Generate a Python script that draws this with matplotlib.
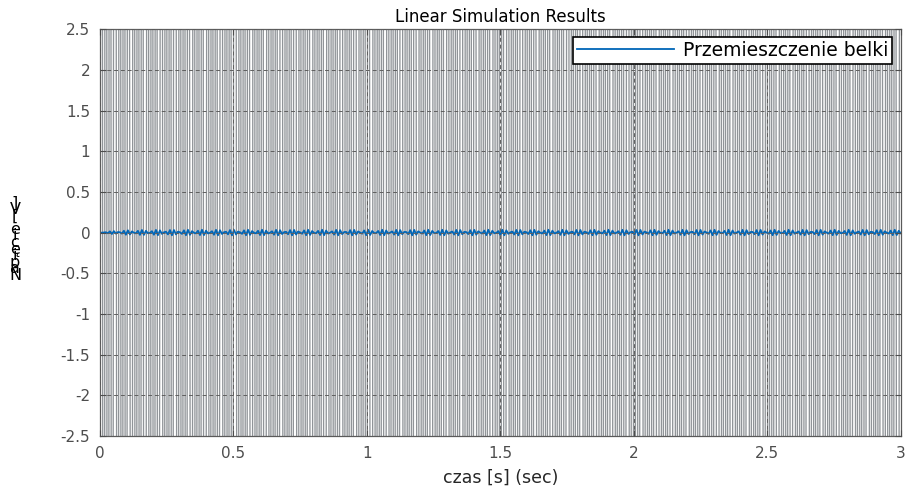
import numpy as np
import matplotlib
matplotlib.use("Agg")
import matplotlib.pyplot as plt

# simulation settings (lsim of a beam, sine input)
T_END = 3.0
N_SAMPLES = 401
INPUT_AMP = 40.0
INPUT_FREQ = 57.8          # Hz, aliased against the 0.0075 s step
RESP_AMP = 0.034
RESP_TAU = 0.06
RESP_PHASE = 0.9

X_TICKS = [0, 0.5, 1, 1.5, 2, 2.5, 3]
Y_TICKS = [-2.5, -2, -1.5, -1, -0.5, 0, 0.5, 1, 1.5, 2, 2.5]
TITLE = "Linear Simulation Results"
XLABEL = "czas [s] (sec)"
YLABEL = "Napięcie [V]"
LEGEND = "Przemieszczenie belki"

t = np.linspace(0, T_END, N_SAMPLES)
u = INPUT_AMP * np.sin(2 * np.pi * INPUT_FREQ * t)
y = RESP_AMP * (1 - np.exp(-t / RESP_TAU)) * np.sin(2 * np.pi * INPUT_FREQ * t + RESP_PHASE)

plt.rcParams["font.family"] = ["DejaVu Sans"]

fig = plt.figure(figsize=(9.08, 4.86), dpi=100)
ax = fig.add_axes([0.110, 0.103, 0.882, 0.837])

ax.plot(t, u, color="#909498", lw=0.95)
ax.plot(t, y, color="#0066b8", lw=1.3, label=LEGEND)

ax.set_xlim(0, T_END)
ax.set_ylim(-2.5, 2.5)
ax.set_xticks(X_TICKS)
ax.set_xticklabels([f"{v:g}" for v in X_TICKS])
ax.set_yticks(Y_TICKS)
ax.set_yticklabels([f"{v:g}" for v in Y_TICKS])
ax.tick_params(direction="in", length=4, labelsize=11, colors="#4d4d4d",
               top=True, right=True, pad=7)
for s in ax.spines.values():
    s.set_color("#5a5a5a")
    s.set_linewidth(0.9)
ax.grid(True, ls=(0, (4, 3)), color="#5f5f5f", lw=0.7)
ax.set_axisbelow(False)

ax.set_title(TITLE, fontsize=12, color="black", pad=5)
ax.set_xlabel(XLABEL, fontsize=12.5, color="#262626", labelpad=6)

# y label drawn as stacked characters, bottom to top
fig.text(0.0165, 0.508, "\n".join(reversed(list(YLABEL))), fontsize=11.5,
         linespacing=0.30, ha="center", va="center", color="black")

leg = ax.legend(loc="upper right", fontsize=13.5, frameon=True, fancybox=False,
                handlelength=5.2, handletextpad=0.45, borderpad=0.2,
                borderaxespad=0, bbox_to_anchor=(0.989, 0.98))
leg.get_frame().set_edgecolor("black")
leg.get_frame().set_linewidth(1.2)
leg.get_frame().set_alpha(1.0)

fig.savefig("out.png", dpi=100)
